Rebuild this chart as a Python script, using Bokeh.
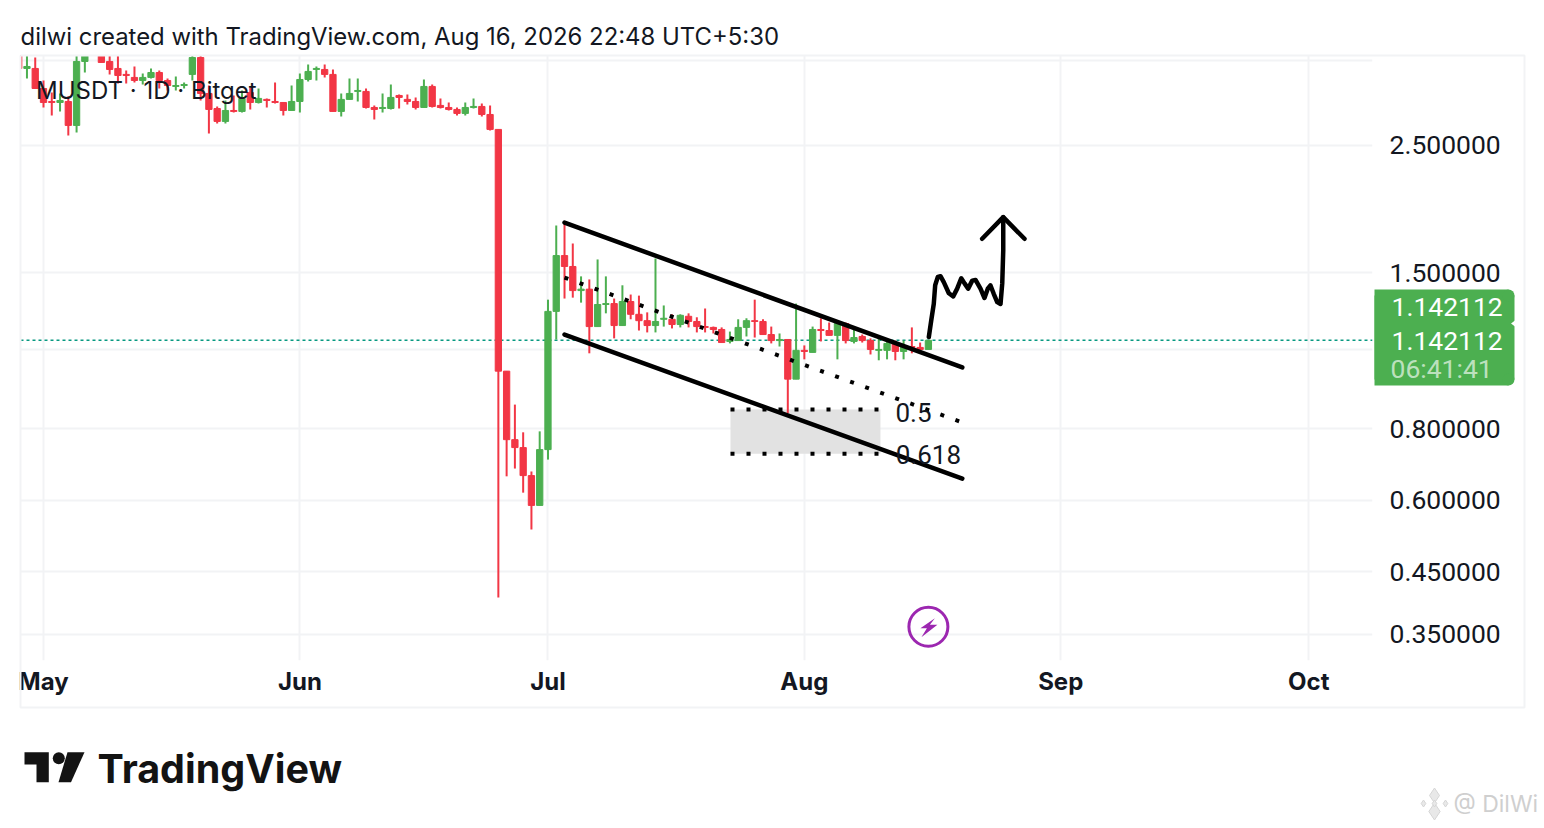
import math
from bokeh.plotting import figure
from bokeh.models import ColumnDataSource, Range1d, FixedTicker, Span
from bokeh.core.properties import value
from bokeh.embed import file_html
from bokeh.resources import INLINE

# days counted from 1 May
days = list(range(-3, 108))
opens = [3.663,3.408,3.408,3.144,2.984,2.972,2.984,2.710,3.505,3.813,3.663,3.505,3.408,3.327,3.287,3.247,3.287,3.353,3.247,3.170,3.182,
         3.327,3.561,3.082,2.901,2.754,2.878,2.867,3.094,2.972,3.009,2.984,2.972,2.878,2.984,3.260,3.394,3.394,3.327,2.867,3.009,3.107,
         3.107,2.913,2.901,2.901,3.057,3.009,2.984,2.913,3.170,2.937,2.913,2.890,2.844,2.913,2.925,2.832,2.667,1.009,0.766,0.742,0.663,
         0.588,0.736,1.283,1.606,1.537,1.395,1.403,1.207,1.319,1.324,1.212,1.335,1.268,1.236,1.212,1.243,1.243,1.217,1.258,1.232,1.207,
         1.203,1.193,1.137,1.141,1.203,1.236,1.232,1.169,1.141,1.146,0.977,1.097,1.088,1.193,1.188,1.165,1.222,1.137,1.160,1.141,1.097,
         1.097,1.128,1.092,1.114,1.110,1.101]
highs = [3.737,3.604,3.561,3.247,3.094,3.082,3.045,3.604,3.663,3.850,3.737,3.634,3.619,3.380,3.435,3.340,3.408,3.380,3.273,3.300,3.221,
         3.604,3.590,3.182,2.925,2.996,3.057,3.119,3.157,3.144,3.021,3.221,2.972,3.182,3.340,3.463,3.435,3.463,3.394,3.082,3.273,3.273,
         3.144,2.937,3.082,3.195,3.070,3.070,3.033,3.260,3.195,3.021,2.972,2.913,2.972,3.021,2.960,2.937,2.667,1.009,0.882,0.789,0.674,
         0.792,1.345,1.812,1.834,1.686,1.477,1.459,1.581,1.477,1.351,1.425,1.373,1.367,1.278,1.587,1.314,1.268,1.268,1.273,1.253,1.298,
         1.207,1.203,1.183,1.243,1.248,1.345,1.243,1.207,1.174,1.146,1.324,1.119,1.207,1.248,1.227,1.236,1.227,1.207,1.169,1.151,1.165,
         1.146,1.141,1.141,1.203,1.132,1.142112]
lows = [3.408,3.273,3.144,2.913,2.821,2.867,2.603,2.635,3.353,3.619,3.491,3.327,3.208,3.208,3.221,3.195,3.273,3.144,3.119,3.119,3.144,
        3.247,2.996,2.624,2.732,2.732,2.855,2.855,2.890,2.960,2.913,2.960,2.821,2.878,2.855,3.234,3.247,3.287,2.867,2.810,3.009,2.984,
        2.901,2.776,2.855,2.890,2.901,2.949,2.890,2.913,2.913,2.901,2.878,2.821,2.821,2.901,2.810,2.656,0.406,0.661,0.682,0.619,0.534,
        0.588,0.707,1.146,1.351,1.356,1.329,1.084,1.207,1.273,1.151,1.212,1.243,1.188,1.179,1.179,1.207,1.198,1.203,1.203,1.179,1.179,
        1.174,1.132,1.128,1.141,1.160,1.155,1.169,1.128,1.114,0.852,0.977,1.058,1.088,1.137,1.165,1.058,1.128,1.128,1.132,1.079,1.054,
        1.058,1.054,1.058,1.084,1.101,1.101]
closes = [3.408,3.435,3.144,2.972,2.972,2.996,2.710,3.505,3.634,3.663,3.491,3.394,3.313,3.313,3.247,3.287,3.353,3.247,3.182,3.182,3.195,
          3.561,3.082,2.890,2.754,2.878,2.867,3.021,2.972,3.021,2.996,2.972,2.878,2.984,3.260,3.367,3.408,3.327,2.867,3.009,3.082,3.119,
          2.913,2.890,2.913,3.033,3.033,2.984,2.913,3.170,2.925,2.913,2.890,2.844,2.913,2.925,2.832,2.667,1.009,0.766,0.742,0.663,0.588,
          0.736,1.283,1.606,1.537,1.395,1.403,1.207,1.319,1.324,1.212,1.335,1.268,1.236,1.212,1.232,1.248,1.217,1.263,1.232,1.207,1.203,
          1.193,1.132,1.146,1.203,1.236,1.232,1.169,1.141,1.146,0.977,1.097,1.092,1.193,1.188,1.165,1.222,1.141,1.155,1.141,1.101,1.101,
          1.128,1.092,1.114,1.110,1.101,1.142112]

month_days = [0, 31, 61, 92, 123, 153]
month_names = ["May", "Jun", "Jul", "Aug", "Sep", "Oct"]
price_ticks = [2.5, 1.5, 0.8, 0.6, 0.45, 0.35]
grid_prices = [3.52, 2.5, 1.5, 1.1, 0.8, 0.6, 0.45, 0.35]
last_price = 1.142112

channel_days = [63, 111.1]
channel_upper = [1.834, 1.024]
channel_lower = [1.169, 0.655]
channel_mid = [1.470, 0.821]
zone_days = [83.07, 101.2]
zone_prices = [0.865, 0.724]
fib_days = [105.2, 107.0]
fib_prices = [0.856, 0.722]
fib_labels = ["0.5", "0.618"]
arrow_days = [107.05,107.34,107.65,107.82,108.14,108.46,108.86,109.47,110.0,110.48,110.97,111.37,111.81,112.3,112.7,113.3,113.78,114.18,114.5,114.9,115.32,115.72,115.93,116.05,116.05]
arrow_prices = [1.157,1.236,1.322,1.425,1.474,1.478,1.443,1.380,1.363,1.406,1.466,1.436,1.406,1.452,1.456,1.406,1.354,1.406,1.425,1.377,1.332,1.322,1.436,1.639,1.874]
head_days = [113.5, 116.05, 118.62]
head_prices = [1.718, 1.874, 1.718]
bolt_day, bolt_price = 107.0, 0.361

GREEN, RED, INK, GRID = "#4CAF50", "#F23645", "#131722", "#F2F3F5"
FONT = "Inter"
NUM_FONT = "Roboto"
W, H = 1540, 826

colors = [GREEN if c >= o else RED for o, c in zip(opens, closes)]
src = ColumnDataSource(dict(d=days, o=opens, h=highs, l=lows, c=closes, color=colors))

p = figure(width=W, height=H, y_axis_type="log", y_axis_location="right",
           x_range=Range1d(-2.781, 160.7), y_range=Range1d(0.3152, 3.590),
           output_backend="svg", toolbar_location=None,
           min_border_left=20, min_border_right=W - 1372, min_border_top=55, min_border_bottom=H - 660)
p.outline_line_color = None
p.background_fill_color = "white"

ax = p.yaxis[0]
ax.ticker = FixedTicker(ticks=price_ticks)
ax.major_label_overrides = {v: f"{v:.6f}" for v in price_ticks}
ax.major_tick_line_color = None
ax.minor_tick_line_color = None
ax.axis_line_color = None
ax.major_label_standoff = 11
ax.major_label_text_font = NUM_FONT
ax.major_label_text_font_size = "26.5px"
ax.major_label_text_color = INK

ax = p.xaxis[0]
ax.ticker = FixedTicker(ticks=month_days)
ax.major_label_overrides = dict(zip(month_days, month_names))
ax.major_tick_line_color = None
ax.minor_tick_line_color = None
ax.axis_line_color = None
ax.major_label_standoff = 0
ax.major_label_text_font = FONT
ax.major_label_text_font_size = "24px"
ax.major_label_text_font_style = "bold"
ax.major_label_text_color = INK

p.ygrid[0].ticker = FixedTicker(ticks=grid_prices)
p.xgrid[0].ticker = FixedTicker(ticks=month_days)
for g in (p.xgrid[0], p.ygrid[0]):
    g.grid_line_color = GRID
    g.grid_line_width = 2
    g.minor_grid_line_color = None

p.add_layout(Span(location=last_price, dimension="width", line_color="#089981", line_width=1.5,
                  line_dash="3 3", level="underlay"))

# fibonacci zone
p.quad(left=zone_days[0], right=zone_days[1], top=zone_prices[0], bottom=zone_prices[1],
       fill_color="#E2E2E2", line_color=None)

p.segment("d", "h", "d", "l", source=src, color="color", line_width=2)
p.vbar("d", 0.76, "o", "c", source=src, fill_color="color", line_color="color", line_width=1)

for z in zone_prices:
    p.line(zone_days, [z, z], line_color="black", line_width=4, line_dash="4 12")
p.line(channel_days, channel_mid, line_color="black", line_width=4, line_dash="4 12")
p.line(channel_days, channel_upper, line_color="black", line_width=4.5, line_cap="round")
p.line(channel_days, channel_lower, line_color="black", line_width=4.5, line_cap="round")
p.line(arrow_days, arrow_prices, line_color="black", line_width=4.5, line_cap="round", line_join="round")
p.line(head_days, head_prices, line_color="black", line_width=4.5, line_cap="round", line_join="round")
p.text(fib_days, fib_prices, text=fib_labels, text_align="center", text_baseline="middle",
       text_font=value(NUM_FONT), text_font_size="26px", text_color=INK)

# lightning icon
p.scatter([bolt_day], [bolt_price], size=39, marker="circle", fill_color=None, line_color="#9C27B0", line_width=3)
bolt_dx = [6.5, -8, -1.5, -7, 9, 1.5]
bolt_dy = [-8.5, 1.5, 1.5, 10.5, -2, -2]
p.patch([bolt_day + v / 8.27 for v in bolt_dx], [bolt_price * math.exp(-v / 248.7) for v in bolt_dy],
        fill_color="#9C27B0", line_color=None)

# transparent sheet in page pixels for everything that lies outside the plot frame
f = figure(width=W, height=H, x_range=Range1d(0, W), y_range=Range1d(H, 0),
           output_backend="svg", toolbar_location=None, min_border=0,
           background_fill_color=None, border_fill_color=None,
           styles={"position": "absolute", "left": "0px", "top": "0px"})
f.xaxis.visible = False
f.yaxis.visible = False
f.grid.visible = False
f.outline_line_color = None

def put(x, y, text, size="24px", color=INK, alpha=1.0, style="normal", baseline="middle", font=FONT):
    f.text([x], [y], text=[text], text_font=value(font), text_font_size=size, text_font_style=style,
           text_color=color, text_alpha=alpha, text_baseline=baseline)

# outer border
f.line([20, 1524, 1524, 20, 20], [55, 55, 707, 707, 55], line_color=GRID, line_width=2)
put(20, 36, "dilwi created with TradingView.com, Aug 16, 2026 22:48 UTC+5:30", size="23.9px")
put(35.5, 90, "MUSDT · 1D · Bitget")

# last-price tag
f.quad(left=1374, right=1508, top=289, bottom=385, fill_color=GREEN, line_color=None)
f.quad(left=1374, right=1514, top=295, bottom=379, fill_color=GREEN, line_color=None)
f.scatter([1508, 1508], [295, 379], size=12, marker="circle", fill_color=GREEN, line_color=None)
f.patch([1514.5, 1510.5, 1514.5], [320, 323, 326], fill_color="white", line_color=None)
put(1391, 306, f"{last_price:.6f}", size="26.5px", color="white", font=NUM_FONT)
put(1391, 340, f"{last_price:.6f}", size="26.5px", color="white", font=NUM_FONT)
put(1390, 368, "06:41:41", size="26.5px", color="white", alpha=0.65, font=NUM_FONT)

# logo and watermark
LOGO = "#131313"
f.patch([24, 48.3, 48.3, 36, 36, 24], [751.7, 751.7, 781.7, 781.7, 764, 764], fill_color=LOGO, line_color=None)
f.patch([67, 84, 70.5, 58], [751.7, 751.7, 781.7, 781.7], fill_color=LOGO, line_color=None)
f.scatter([58.3], [757.7], size=12, marker="circle", fill_color=LOGO, line_color=None)
put(97, 768, "TradingView", size="39.5px", color=LOGO, style="bold")
put(1453, 803, "@ DilWi", size="23px", color="#CFCFCF")
f.scatter([1434, 1434, 1423, 1445, 1434], [795, 811, 803, 803, 803], size=[15, 17, 7, 7, 7], marker="diamond",
          fill_color="#E8E8E8", line_color="#D6D6D6")

open("out.html", "w").write(file_html((p, f), INLINE))
